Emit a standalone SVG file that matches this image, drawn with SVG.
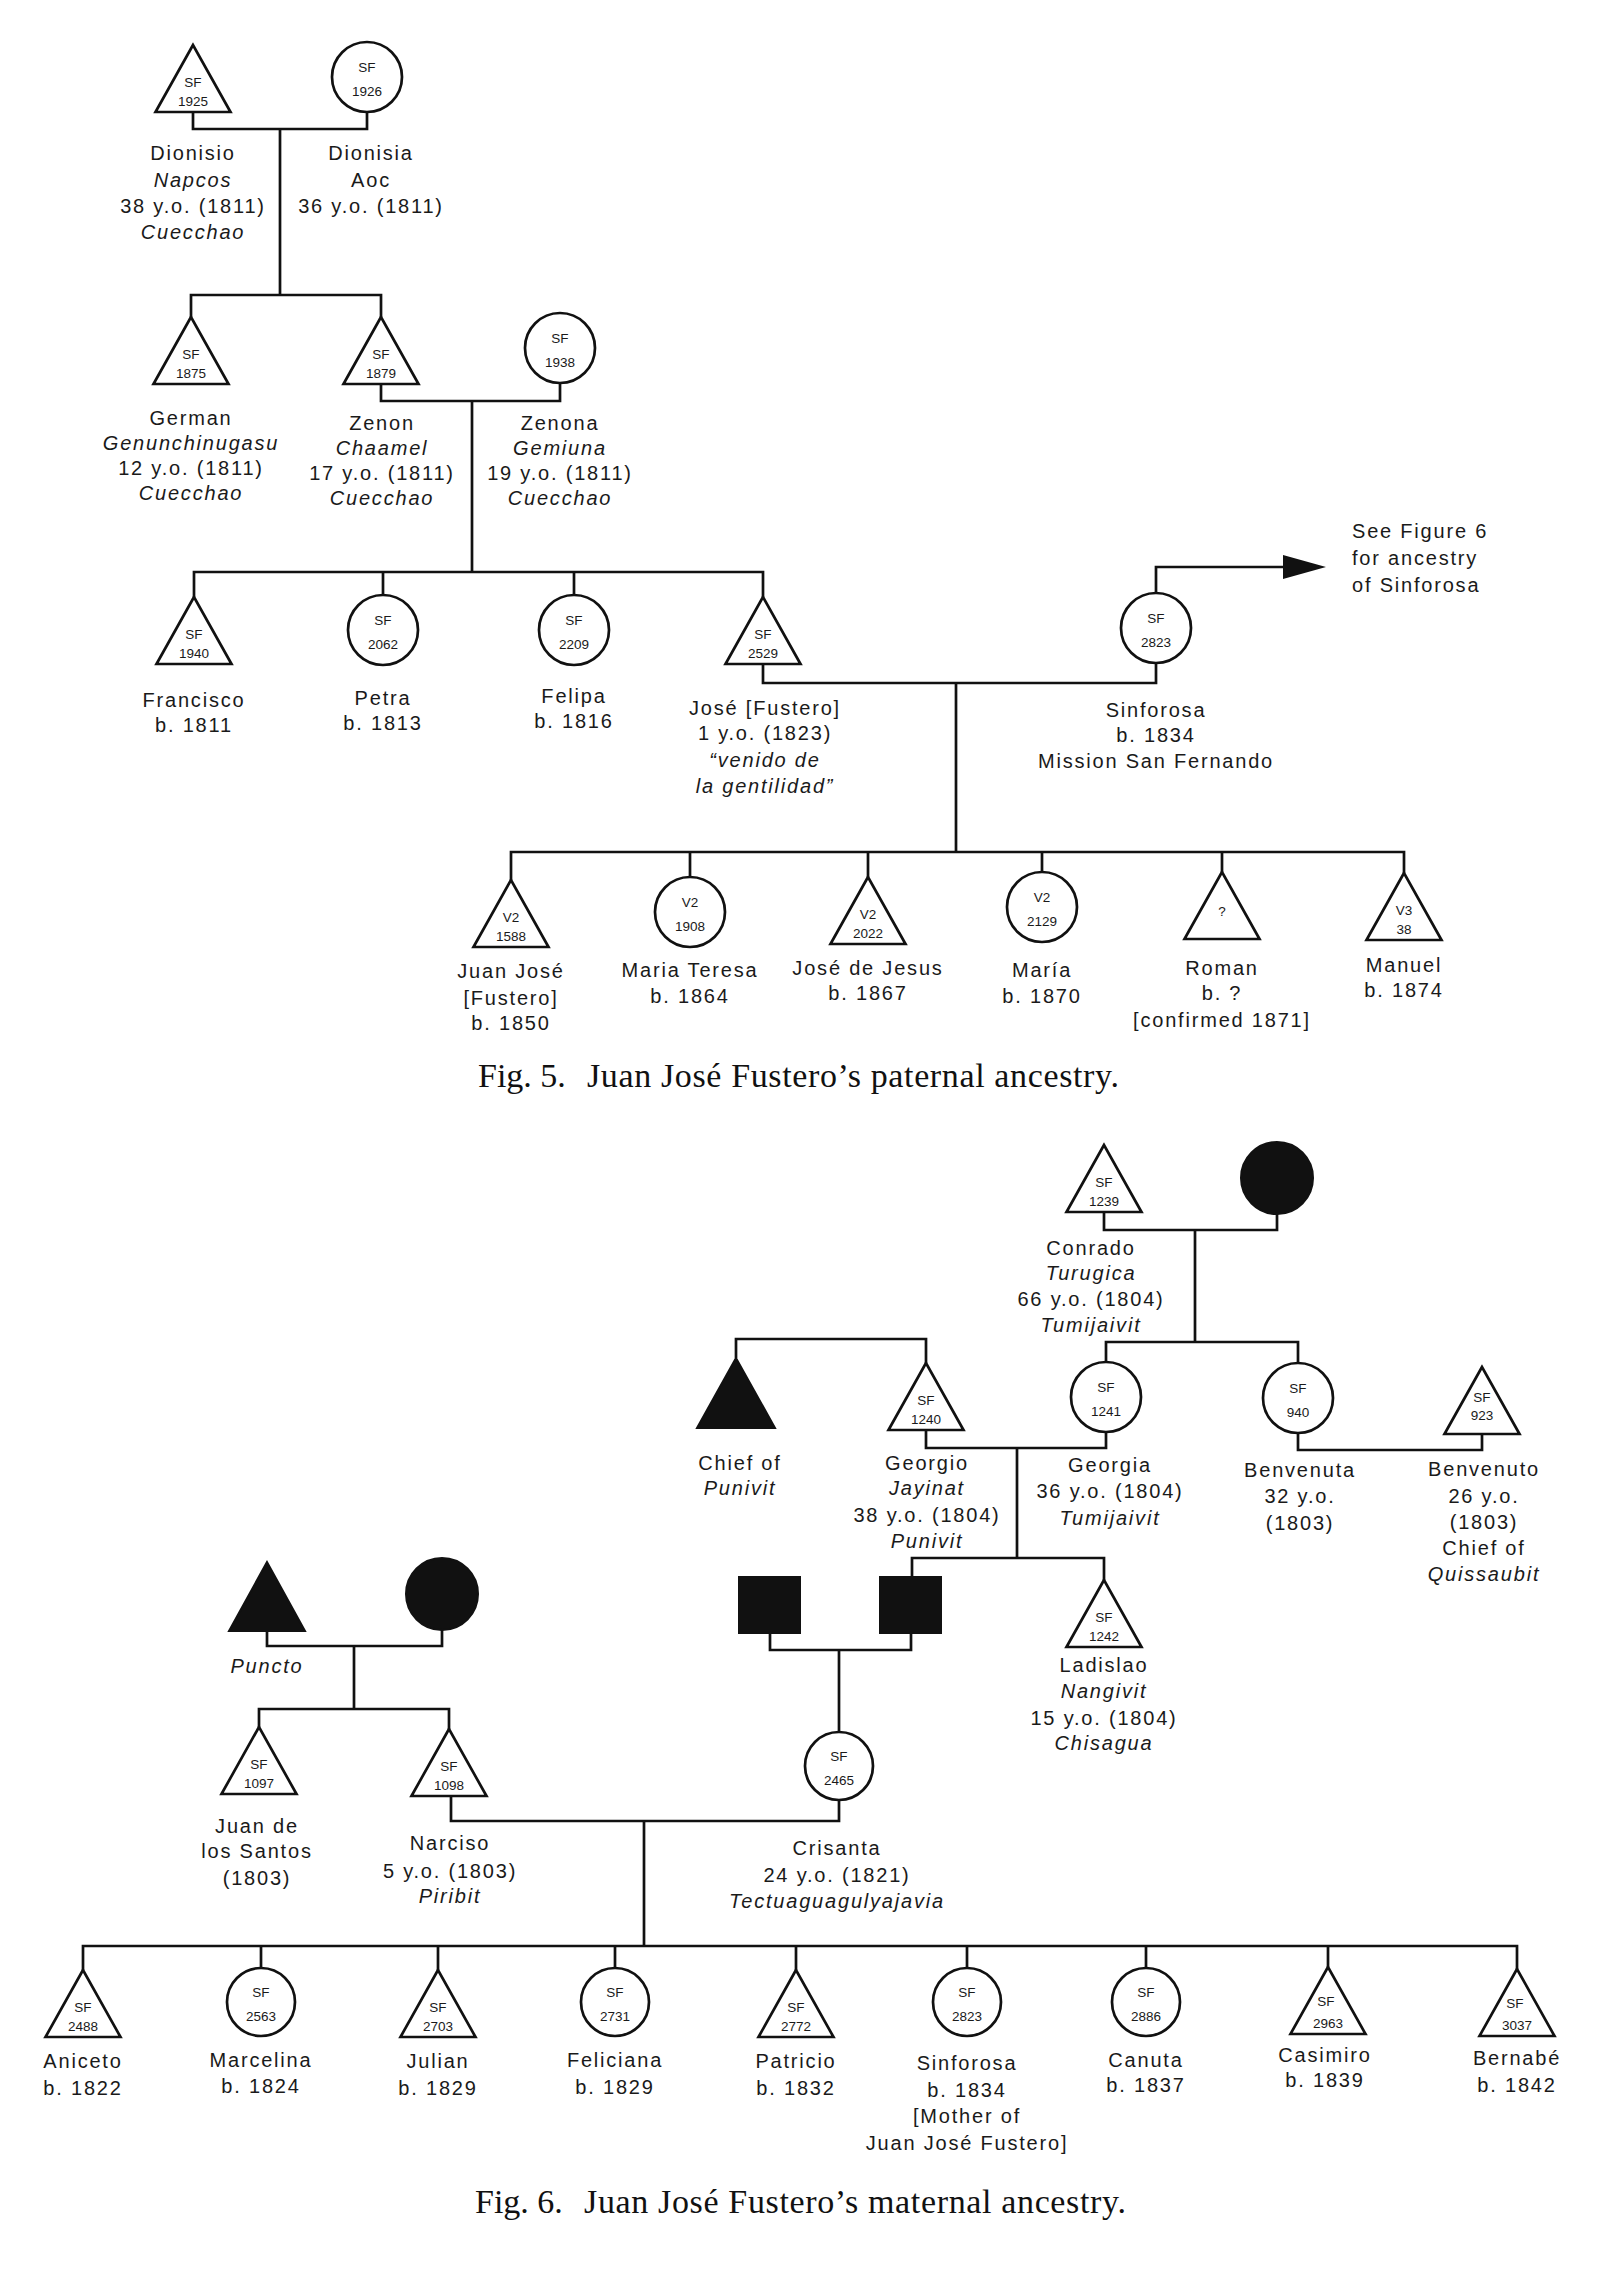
<svg xmlns="http://www.w3.org/2000/svg" width="1600" height="2271" viewBox="0 0 1600 2271">
<style>
.ln{fill:none;stroke:#111;stroke-width:2.7;stroke-linejoin:miter}
.sh{fill:#fff;stroke:#111;stroke-width:2.7}
.bk{fill:#111;stroke:#111;stroke-width:2}
text{font-family:"Liberation Sans",Arial,sans-serif;fill:#1a1a1a}
.t{font-size:20px;letter-spacing:1.8px;text-anchor:middle}
.l{font-size:20px;letter-spacing:1.8px;text-anchor:start}
.i{font-style:italic}
.s{font-size:13.5px;text-anchor:middle;letter-spacing:0}
.cap{font-family:"Liberation Serif","Times New Roman",serif;font-size:34px;fill:#111}
</style>
<rect width="1600" height="2271" fill="#fff"/>

<g id="connectors">
<!-- Fig 5 -->
<path class="ln" d="M193,112 V129 H367 V112"/>
<path class="ln" d="M280,129 V295"/>
<path class="ln" d="M191,317 V295 H381 V317"/>
<path class="ln" d="M381,384 V401 H560 V383"/>
<path class="ln" d="M472,401 V572"/>
<path class="ln" d="M194,597 V572 H763 V597"/>
<path class="ln" d="M383,572 V595 M574,572 V595"/>
<path class="ln" d="M763,664 V683 H1156 V663"/>
<path class="ln" d="M1156,593 V567 H1287"/>
<polygon points="1283,555 1326,567 1283,579" fill="#111"/>
<path class="ln" d="M956,683 V852"/>
<path class="ln" d="M511,880 V852 H1404 V873"/>
<path class="ln" d="M690,852 V877 M868,852 V877 M1042,852 V872 M1222,852 V872"/>
<!-- Fig 6 -->
<path class="ln" d="M1104,1212 V1230 H1277 V1214"/>
<path class="ln" d="M1195,1230 V1342"/>
<path class="ln" d="M1106,1362 V1342 H1298 V1363"/>
<path class="ln" d="M1298,1433 V1450 H1482 V1434"/>
<path class="ln" d="M736,1358 V1339 H926 V1363"/>
<path class="ln" d="M926,1430 V1448 H1106 V1432"/>
<path class="ln" d="M1017,1448 V1558"/>
<path class="ln" d="M912,1577 V1558 H1104 V1580"/>
<path class="ln" d="M770,1633 V1650 H911 V1633"/>
<path class="ln" d="M839,1650 V1732"/>
<path class="ln" d="M267,1631 V1646 H442 V1630"/>
<path class="ln" d="M354,1646 V1709"/>
<path class="ln" d="M259,1727 V1709 H449 V1729"/>
<path class="ln" d="M451,1796 V1821 H839 V1800"/>
<path class="ln" d="M644,1821 V1946"/>
<path class="ln" d="M83,1970 V1946 H1517 V1969"/>
<path class="ln" d="M261,1946 V1968 M438,1946 V1970 M615,1946 V1968 M796,1946 V1970 M967,1946 V1968 M1146,1946 V1968 M1328,1946 V1967"/>
</g>

<!-- ===== Fig. 5 ===== -->
<g id="n1925">
<polygon class="sh" points="193,45 155.5,112 230.5,112"/>
<text class="s" x="193" y="87">SF</text><text class="s" x="193" y="106">1925</text>
<text class="t" x="193" y="160">Dionisio</text>
<text class="t i" x="193" y="187">Napcos</text>
<text class="t" x="193" y="213">38 y.o. (1811)</text>
<text class="t i" x="193" y="239">Cuecchao</text>
</g>
<g id="n1926">
<circle class="sh" cx="367" cy="77" r="35"/>
<text class="s" x="367" y="72">SF</text><text class="s" x="367" y="96">1926</text>
<text class="t" x="371" y="160">Dionisia</text>
<text class="t" x="371" y="187">Aoc</text>
<text class="t" x="371" y="213">36 y.o. (1811)</text>
</g>
<g id="n1875">
<polygon class="sh" points="191,317 153.5,384 228.5,384"/>
<text class="s" x="191" y="359">SF</text><text class="s" x="191" y="378">1875</text>
<text class="t" x="191" y="425">German</text>
<text class="t i" x="191" y="450">Genunchinugasu</text>
<text class="t" x="191" y="475">12 y.o. (1811)</text>
<text class="t i" x="191" y="500">Cuecchao</text>
</g>
<g id="n1879">
<polygon class="sh" points="381,317 343.5,384 418.5,384"/>
<text class="s" x="381" y="359">SF</text><text class="s" x="381" y="378">1879</text>
<text class="t" x="382" y="430">Zenon</text>
<text class="t i" x="382" y="455">Chaamel</text>
<text class="t" x="382" y="480">17 y.o. (1811)</text>
<text class="t i" x="382" y="505">Cuecchao</text>
</g>
<g id="n1938">
<circle class="sh" cx="560" cy="348" r="35"/>
<text class="s" x="560" y="343">SF</text><text class="s" x="560" y="367">1938</text>
<text class="t" x="560" y="430">Zenona</text>
<text class="t i" x="560" y="455">Gemiuna</text>
<text class="t" x="560" y="480">19 y.o. (1811)</text>
<text class="t i" x="560" y="505">Cuecchao</text>
</g>
<g id="n1940">
<polygon class="sh" points="194,597 156.5,664 231.5,664"/>
<text class="s" x="194" y="639">SF</text><text class="s" x="194" y="658">1940</text>
<text class="t" x="194" y="707">Francisco</text>
<text class="t" x="194" y="732">b. 1811</text>
</g>
<g id="n2062">
<circle class="sh" cx="383" cy="630" r="35"/>
<text class="s" x="383" y="625">SF</text><text class="s" x="383" y="649">2062</text>
<text class="t" x="383" y="705">Petra</text>
<text class="t" x="383" y="730">b. 1813</text>
</g>
<g id="n2209">
<circle class="sh" cx="574" cy="630" r="35"/>
<text class="s" x="574" y="625">SF</text><text class="s" x="574" y="649">2209</text>
<text class="t" x="574" y="703">Felipa</text>
<text class="t" x="574" y="728">b. 1816</text>
</g>
<g id="n2529">
<polygon class="sh" points="763,597 725.5,664 800.5,664"/>
<text class="s" x="763" y="639">SF</text><text class="s" x="763" y="658">2529</text>
<text class="t" x="765" y="715">José [Fustero]</text>
<text class="t" x="765" y="740">1 y.o. (1823)</text>
<text class="t i" x="765" y="767">“venido de</text>
<text class="t i" x="765" y="793">la gentilidad”</text>
</g>
<g id="n2823a">
<circle class="sh" cx="1156" cy="628" r="35"/>
<text class="s" x="1156" y="623">SF</text><text class="s" x="1156" y="647">2823</text>
<text class="t" x="1156" y="717">Sinforosa</text>
<text class="t" x="1156" y="742">b. 1834</text>
<text class="t" x="1156" y="768">Mission San Fernando</text>
</g>
<g id="note5">
<text class="l" x="1352" y="538">See Figure 6</text>
<text class="l" x="1352" y="565">for ancestry</text>
<text class="l" x="1352" y="592">of Sinforosa</text>
</g>
<g id="v1588">
<polygon class="sh" points="511,880 473.5,947 548.5,947"/>
<text class="s" x="511" y="922">V2</text><text class="s" x="511" y="941">1588</text>
<text class="t" x="511" y="978">Juan José</text>
<text class="t" x="511" y="1005">[Fustero]</text>
<text class="t" x="511" y="1030">b. 1850</text>
</g>
<g id="v1908">
<circle class="sh" cx="690" cy="912" r="35"/>
<text class="s" x="690" y="907">V2</text><text class="s" x="690" y="931">1908</text>
<text class="t" x="690" y="977">Maria Teresa</text>
<text class="t" x="690" y="1003">b. 1864</text>
</g>
<g id="v2022">
<polygon class="sh" points="868,877 830.5,944 905.5,944"/>
<text class="s" x="868" y="919">V2</text><text class="s" x="868" y="938">2022</text>
<text class="t" x="868" y="975">José de Jesus</text>
<text class="t" x="868" y="1000">b. 1867</text>
</g>
<g id="v2129">
<circle class="sh" cx="1042" cy="907" r="35"/>
<text class="s" x="1042" y="902">V2</text><text class="s" x="1042" y="926">2129</text>
<text class="t" x="1042" y="977">María</text>
<text class="t" x="1042" y="1003">b. 1870</text>
</g>
<g id="roman">
<polygon class="sh" points="1222,872 1184.5,939 1259.5,939"/>
<text class="s" x="1222" y="916">?</text>
<text class="t" x="1222" y="975">Roman</text>
<text class="t" x="1222" y="1000">b. ?</text>
<text class="t" x="1222" y="1027">[confirmed 1871]</text>
</g>
<g id="v338">
<polygon class="sh" points="1404,873 1366.5,940 1441.5,940"/>
<text class="s" x="1404" y="915">V3</text><text class="s" x="1404" y="934">38</text>
<text class="t" x="1404" y="972">Manuel</text>
<text class="t" x="1404" y="997">b. 1874</text>
</g>
<text class="cap" y="1087"><tspan x="478">Fig. 5.</tspan><tspan x="587" textLength="532" lengthAdjust="spacing">Juan José Fustero’s paternal ancestry.</tspan></text>

<!-- ===== Fig. 6 ===== -->
<g id="n1239">
<polygon class="sh" points="1104,1145 1066.5,1212 1141.5,1212"/>
<text class="s" x="1104" y="1187">SF</text><text class="s" x="1104" y="1206">1239</text>
<text class="t" x="1091" y="1255">Conrado</text>
<text class="t i" x="1091" y="1280">Turugica</text>
<text class="t" x="1091" y="1306">66 y.o. (1804)</text>
<text class="t i" x="1091" y="1332">Tumijaivit</text>
</g>
<g id="wifeConrado"><circle class="bk" cx="1277" cy="1178" r="36"/></g>
<g id="chiefPunivit">
<polygon class="bk" points="736,1358 697,1428 775,1428"/>
<text class="t" x="740" y="1470">Chief of</text>
<text class="t i" x="740" y="1495">Punivit</text>
</g>
<g id="n1240">
<polygon class="sh" points="926,1363 888.5,1430 963.5,1430"/>
<text class="s" x="926" y="1405">SF</text><text class="s" x="926" y="1424">1240</text>
<text class="t" x="927" y="1470">Georgio</text>
<text class="t i" x="927" y="1495">Jayinat</text>
<text class="t" x="927" y="1522">38 y.o. (1804)</text>
<text class="t i" x="927" y="1548">Punivit</text>
</g>
<g id="n1241">
<circle class="sh" cx="1106" cy="1397" r="35"/>
<text class="s" x="1106" y="1392">SF</text><text class="s" x="1106" y="1416">1241</text>
<text class="t" x="1110" y="1472">Georgia</text>
<text class="t" x="1110" y="1498">36 y.o. (1804)</text>
<text class="t i" x="1110" y="1525">Tumijaivit</text>
</g>
<g id="n940">
<circle class="sh" cx="1298" cy="1398" r="35"/>
<text class="s" x="1298" y="1393">SF</text><text class="s" x="1298" y="1417">940</text>
<text class="t" x="1300" y="1477">Benvenuta</text>
<text class="t" x="1300" y="1503">32 y.o.</text>
<text class="t" x="1300" y="1530">(1803)</text>
</g>
<g id="n923">
<polygon class="sh" points="1482,1367 1444.5,1434 1519.5,1434"/>
<text class="s" x="1482" y="1402">SF</text><text class="s" x="1482" y="1420">923</text>
<text class="t" x="1484" y="1476">Benvenuto</text>
<text class="t" x="1484" y="1503">26 y.o.</text>
<text class="t" x="1484" y="1529">(1803)</text>
<text class="t" x="1484" y="1555">Chief of</text>
<text class="t i" x="1484" y="1581">Quissaubit</text>
</g>
<g id="n1242">
<polygon class="sh" points="1104,1580 1066.5,1647 1141.5,1647"/>
<text class="s" x="1104" y="1622">SF</text><text class="s" x="1104" y="1641">1242</text>
<text class="t" x="1104" y="1672">Ladislao</text>
<text class="t i" x="1104" y="1698">Nangivit</text>
<text class="t" x="1104" y="1725">15 y.o. (1804)</text>
<text class="t i" x="1104" y="1750">Chisagua</text>
</g>
<g id="sq1"><rect class="bk" x="739" y="1577" width="61" height="56"/></g>
<g id="sq2"><rect class="bk" x="880" y="1577" width="61" height="56"/></g>
<g id="n2465">
<ellipse class="sh" cx="839" cy="1766" rx="34" ry="34"/>
<text class="s" x="839" y="1761">SF</text><text class="s" x="839" y="1785">2465</text>
<text class="t" x="837" y="1855">Crisanta</text>
<text class="t" x="837" y="1882">24 y.o. (1821)</text>
<text class="t i" x="837" y="1908">Tectuaguagulyajavia</text>
</g>
<g id="puncto">
<polygon class="bk" points="267,1562 229,1631 305,1631"/>
<text class="t i" x="267" y="1673">Puncto</text>
</g>
<g id="wifePuncto"><circle class="bk" cx="442" cy="1594" r="36"/></g>
<g id="n1097">
<polygon class="sh" points="259,1727 221.5,1794 296.5,1794"/>
<text class="s" x="259" y="1769">SF</text><text class="s" x="259" y="1788">1097</text>
<text class="t" x="257" y="1833">Juan de</text>
<text class="t" x="257" y="1858">los Santos</text>
<text class="t" x="257" y="1885">(1803)</text>
</g>
<g id="n1098">
<polygon class="sh" points="449,1729 411.5,1796 486.5,1796"/>
<text class="s" x="449" y="1771">SF</text><text class="s" x="449" y="1790">1098</text>
<text class="t" x="450" y="1850">Narciso</text>
<text class="t" x="450" y="1878">5 y.o. (1803)</text>
<text class="t i" x="450" y="1903">Piribit</text>
</g>
<g id="n2488">
<polygon class="sh" points="83,1970 45.5,2037 120.5,2037"/>
<text class="s" x="83" y="2012">SF</text><text class="s" x="83" y="2031">2488</text>
<text class="t" x="83" y="2068">Aniceto</text>
<text class="t" x="83" y="2095">b. 1822</text>
</g>
<g id="n2563">
<circle class="sh" cx="261" cy="2002" r="34"/>
<text class="s" x="261" y="1997">SF</text><text class="s" x="261" y="2021">2563</text>
<text class="t" x="261" y="2067">Marcelina</text>
<text class="t" x="261" y="2093">b. 1824</text>
</g>
<g id="n2703">
<polygon class="sh" points="438,1970 400.5,2037 475.5,2037"/>
<text class="s" x="438" y="2012">SF</text><text class="s" x="438" y="2031">2703</text>
<text class="t" x="438" y="2068">Julian</text>
<text class="t" x="438" y="2095">b. 1829</text>
</g>
<g id="n2731">
<circle class="sh" cx="615" cy="2002" r="34"/>
<text class="s" x="615" y="1997">SF</text><text class="s" x="615" y="2021">2731</text>
<text class="t" x="615" y="2067">Feliciana</text>
<text class="t" x="615" y="2094">b. 1829</text>
</g>
<g id="n2772">
<polygon class="sh" points="796,1970 758.5,2037 833.5,2037"/>
<text class="s" x="796" y="2012">SF</text><text class="s" x="796" y="2031">2772</text>
<text class="t" x="796" y="2068">Patricio</text>
<text class="t" x="796" y="2095">b. 1832</text>
</g>
<g id="n2823b">
<circle class="sh" cx="967" cy="2002" r="34"/>
<text class="s" x="967" y="1997">SF</text><text class="s" x="967" y="2021">2823</text>
<text class="t" x="967" y="2070">Sinforosa</text>
<text class="t" x="967" y="2097">b. 1834</text>
<text class="t" x="967" y="2123">[Mother of</text>
<text class="t" x="967" y="2150">Juan José Fustero]</text>
</g>
<g id="n2886">
<circle class="sh" cx="1146" cy="2002" r="34"/>
<text class="s" x="1146" y="1997">SF</text><text class="s" x="1146" y="2021">2886</text>
<text class="t" x="1146" y="2067">Canuta</text>
<text class="t" x="1146" y="2092">b. 1837</text>
</g>
<g id="n2963">
<polygon class="sh" points="1328,1967 1290.5,2034 1365.5,2034"/>
<text class="s" x="1326" y="2006">SF</text><text class="s" x="1328" y="2028">2963</text>
<text class="t" x="1325" y="2062">Casimiro</text>
<text class="t" x="1325" y="2087">b. 1839</text>
</g>
<g id="n3037">
<polygon class="sh" points="1517,1969 1479.5,2036 1554.5,2036"/>
<text class="s" x="1515" y="2008">SF</text><text class="s" x="1517" y="2030">3037</text>
<text class="t" x="1517" y="2065">Bernabé</text>
<text class="t" x="1517" y="2092">b. 1842</text>
</g>
<text class="cap" y="2213"><tspan x="475">Fig. 6.</tspan><tspan x="584" textLength="542" lengthAdjust="spacing">Juan José Fustero’s maternal ancestry.</tspan></text>
</svg>
